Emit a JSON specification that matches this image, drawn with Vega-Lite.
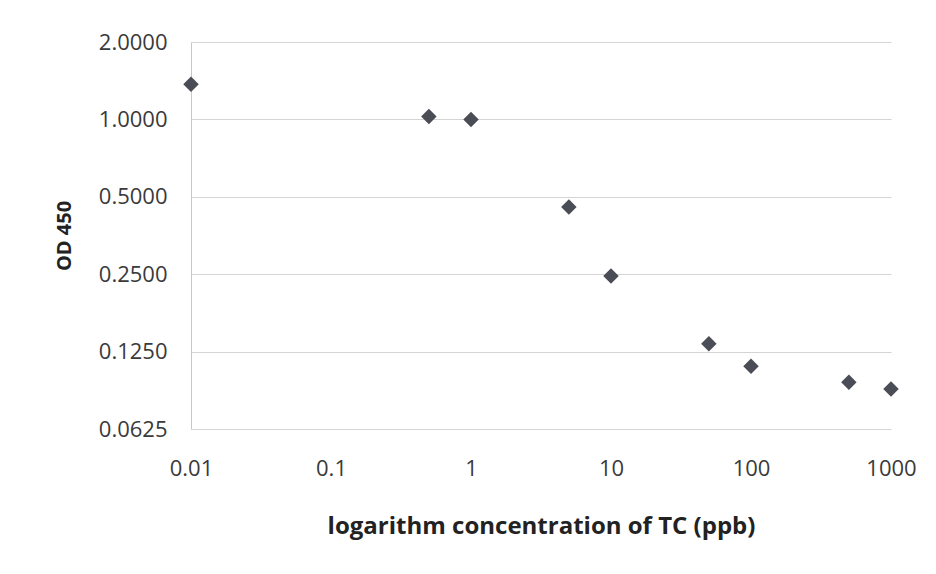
{
  "$schema": "https://vega.github.io/schema/vega-lite/v6.json",
  "autosize": "none",
  "width": 700,
  "height": 387,
  "padding": {"left": 191, "top": 42, "right": 45, "bottom": 145},
  "background": "white",
  "config": {"view": {"stroke": null}, "font": "Open Sans"},
  "data": {
    "values": [
      {"conc": 0.01, "od": 1.37},
      {"conc": 0.5, "od": 1.027},
      {"conc": 1, "od": 1.0},
      {"conc": 5, "od": 0.456},
      {"conc": 10, "od": 0.246},
      {"conc": 50, "od": 0.134},
      {"conc": 100, "od": 0.1096},
      {"conc": 500, "od": 0.095},
      {"conc": 1000, "od": 0.0895}
    ]
  },
  "mark": {"type": "point", "shape": "diamond", "filled": true, "size": 240, "color": "#4a4d55", "opacity": 1},
  "encoding": {
    "x": {
      "field": "conc", "type": "quantitative",
      "scale": {"type": "log", "domain": [0.01, 1000], "nice": false},
      "axis": {
        "title": "logarithm concentration of TC (ppb)",
        "values": [0.01, 0.1, 1, 10, 100, 1000],
        "labelExpr": "datum.value >= 1 ? format(datum.value, 'd') : format(datum.value, '~g')",
        "labelFlush": false, "labelOverlap": false,
        "grid": false, "domain": false, "ticks": false,
        "labelPadding": 29, "labelFontSize": 22, "labelColor": "#3a3a3a", "labelFont": "Open Sans",
        "titleFontSize": 24, "titleFontWeight": "bold", "titleColor": "#222222", "titlePadding": 35, "titleFont": "Open Sans"
      }
    },
    "y": {
      "field": "od", "type": "quantitative",
      "scale": {"type": "log", "base": 2, "domain": [0.0625, 2], "nice": false},
      "axis": {
        "title": "OD 450",
        "values": [0.0625, 0.125, 0.25, 0.5, 1, 2],
        "format": ".4f",
        "labelOverlap": false,
        "grid": true, "gridColor": "#d4d4d4", "gridWidth": 1.2,
        "domain": true, "domainColor": "#c8c8c8", "ticks": false,
        "labelPadding": 24, "labelFontSize": 22, "labelColor": "#3a3a3a", "labelFont": "Open Sans",
        "titleFontSize": 20, "titleFontWeight": "bold", "titleColor": "#222222", "titlePadding": 24, "titleFont": "Open Sans"
      }
    }
  }
}
